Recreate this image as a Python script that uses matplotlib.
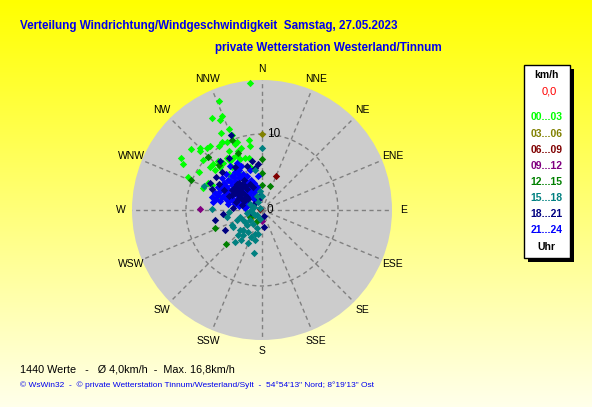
"""
wind scatter, one point per minute, colour by time of day
"""

import numpy as np
import matplotlib.pyplot as plt
from matplotlib.patches import Rectangle

W, H = 592, 407

title = "Verteilung Windrichtung/Windgeschwindigkeit  Samstag, 27.05.2023"
subtitle = "private Wetterstation Westerland/Tinnum"
stats = "1440 Werte   -   \u00d8 4,0km/h  -  Max. 16,8km/h"
copyright_txt = ("\u00a9 WsWin32  -  \u00a9 private Wetterstation Tinnum/Westerland/Sylt  -  "
                 "54\u00b054'13\" Nord; 8\u00b019'13\" Ost")

directions = ["N", "NNE", "NE", "ENE", "E", "ESE", "SE", "SSE",
              "S", "SSW", "SW", "WSW", "W", "WNW", "NW", "NNW"]

hour_labels = ["00...03", "03...06", "06...09", "09...12",
               "12...15", "15...18", "18...21", "21...24"]
hour_colors = ["#00ff00", "#808000", "#800000", "#800080",
               "#008000", "#008080", "#000080", "#0000ff"]

# wind vectors (east, north) in km/h
h00_03 = [(-1.6, 16.7), (-5.7, 14.3), (-6.6, 12.1), (-5.5, 11.9), (-5.3, 12.3),
          (-5.4, 10.1), (-4.4, 10.6), (-4.0, 9.9), (-5.3, 8.9), (-4.6, 9.0),
          (-3.6, 8.7), (-3.3, 9.0), (-9.3, 8.0), (-8.2, 8.2), (-8.2, 7.8),
          (-7.3, 8.2), (-6.8, 8.4), (-5.7, 8.4), (-4.3, 7.7), (-3.2, 7.7),
          (-2.7, 8.1), (-1.7, 9.2), (-1.6, 8.4), (-7.7, 6.6), (-7.1, 7.0),
          (-10.6, 6.9), (-10.4, 6.0), (-6.8, 5.7), (-6.4, 6.1), (-5.8, 6.4),
          (-5.5, 5.7), (-5.1, 6.2), (-3.3, 7.2), (-2.9, 6.7), (-2.2, 6.9),
          (-1.7, 6.9), (-1.6, 5.6), (-4.0, 5.7), (-3.6, 5.5), (-8.3, 5.0),
          (-9.7, 4.4), (-4.3, 4.8), (-3.1, 5.0), (-2.9, 5.7), (-4.6, 6.9),
          (-3.8, 6.9), (-4.2, 6.4), (-6.2, 5.3), (-7.1, 3.5), (-6.6, 3.3),
          (-5.7, 1.8), (-7.7, 2.9), (-5.4, 3.2)]
h03_06 = [(0.0, 10.0), (-1.5, -1.1)]
h06_09 = [(1.8, 4.5), (-0.2, 0.1)]
h09_12 = [(-8.2, 0.1), (0.0, -1.5)]
h12_15 = [(-9.3, 3.9), (-6.2, -2.4), (-4.7, -4.5), (0.0, 6.7), (0.0, 4.9),
          (1.1, 3.1), (0.0, 3.3), (-7.1, 7.0), (-3.2, 7.5), (-5.6, 5.9),
          (-3.9, 9.2), (-0.7, -1.4), (-1.6, -0.9)]
h15_18 = [(-6.6, 0.1), (-4.6, -0.9), (-4.0, -2.0), (-3.8, -2.2), (-2.9, -2.6),
          (-2.5, -3.3), (-3.1, -3.3), (-2.7, -3.9), (-3.6, -4.2), (-1.8, -4.4),
          (-1.4, -3.5), (-1.1, -5.7), (-2.5, -2.6), (-2.0, -2.0), (-1.6, -1.3),
          (-0.7, -2.4), (-0.5, -3.1), (-0.9, -3.9), (-2.5, -1.3), (-2.9, -0.9),
          (-2.0, -0.4), (-1.4, 0.0), (-0.9, -0.7), (-3.3, -1.3), (-4.4, -0.2),
          (-1.8, -2.9), (-0.9, -3.1), (-7.6, 3.2), (0.0, 8.2), (0.0, 1.8),
          (-0.9, 5.3), (-0.5, 1.0), (-1.0, 0.4), (-0.3, 0.3), (-1.6, 0.8),
          (-0.7, 1.9), (-0.2, 2.5), (-1.2, -0.4), (-0.6, -0.6), (-1.2, -1.8),
          (-2.2, -1.6), (-0.3, -1.2)]
h18_21 = [(-3.5, 2.2), (-3.0, 2.0), (-2.6, 2.4), (-2.2, 2.0), (-2.8, 1.6),
          (-3.4, 1.0), (-2.4, 1.2), (-1.8, 1.4), (-4.0, 2.6), (-3.6, 3.0),
          (-2.0, 2.8), (-1.6, 3.4), (-3.0, 3.6), (-2.4, 4.0), (-1.2, 3.0),
          (-4.4, 1.8), (-5.0, 2.6), (-5.6, 3.4), (-6.0, 4.4), (-4.1, 9.9),
          (-6.6, 2.8), (-5.1, -0.5), (0.3, -2.2), (-0.9, 5.5), (-4.3, 6.8),
          (-6.2, -1.3), (-4.9, -2.6), (-0.5, 6.0), (-2.0, 5.8), (-1.3, 6.5),
          (-3.5, 5.6), (-5.2, 5.0), (-1.0, 0.8), (-0.4, 1.5), (-2.6, 0.6),
          (-3.8, 0.3), (-6.8, 3.6), (-5.5, 6.5), (-1.5, -0.2), (0.3, -0.8),
          (-3.2, 2.6), (-2.8, 2.9), (-2.3, 3.1), (-3.9, 2.0), (-3.1, 1.4),
          (-2.0, 1.7), (-2.6, 3.3), (-3.3, 3.4)]
h21_24 = [(-5.0, 3.5), (-4.5, 4.0), (-4.0, 4.5), (-3.5, 5.0), (-3.0, 5.3),
          (-2.5, 4.8), (-2.0, 4.5), (-1.5, 4.0), (-1.0, 3.5), (-0.6, 3.0),
          (-5.5, 2.5), (-5.0, 2.0), (-4.5, 2.8), (-4.0, 3.3), (-3.5, 3.8),
          (-3.0, 4.2), (-2.5, 3.6), (-2.0, 3.2), (-1.5, 2.8), (-1.0, 2.4),
          (-6.0, 1.5), (-5.5, 1.2), (-4.8, 1.5), (-4.2, 2.0), (-3.6, 2.5),
          (-3.0, 3.0), (-2.4, 2.6), (-1.8, 2.0), (-1.2, 1.6), (-0.8, 1.2),
          (-4.5, 0.8), (-3.8, 1.2), (-3.2, 1.8), (-2.6, 1.4), (-2.0, 1.0),
          (-1.5, 0.6), (-3.0, 0.5), (-2.2, 0.2), (-6.4, 1.1), (-6.6, 1.7),
          (-5.3, 4.2), (-4.8, 4.7), (-2.8, 5.8), (-1.6, 5.2), (-0.5, 4.5),
          (-0.3, 2.0), (-5.8, 3.0), (-6.2, 2.2), (-3.3, 6.2), (-4.2, 5.8),
          (-4.7, 3.2), (-4.2, 3.8), (-3.7, 4.3), (-3.2, 4.7), (-2.7, 4.3),
          (-2.2, 3.9), (-1.7, 3.5), (-1.3, 3.2), (-0.9, 2.8), (-5.2, 1.7),
          (-4.6, 2.3), (-4.0, 1.6), (-3.4, 2.2), (-2.8, 2.1), (-2.2, 2.4),
          (-1.6, 2.3), (-1.0, 1.9), (-4.4, 1.2), (-3.6, 0.8), (-2.9, 1.2),
          (-2.3, 0.8), (-1.8, 0.6), (-5.8, 2.0), (-5.2, 3.0)]

groups = [h00_03, h03_06, h06_09, h09_12, h12_15, h21_24, h18_21, h15_18]
group_colors = [hour_colors[i] for i in (0, 1, 2, 3, 4, 7, 6, 5)]

R_MAX = 17.1


def fx(x):
    return x / W


def fy(y):
    return 1 - y / H


fig = plt.figure(figsize=(W / 100, H / 100), dpi=100)

# yellow gradient background
bg = fig.add_axes([0, 0, 1, 1], zorder=-10)
grad = np.linspace(0, 1, 256).reshape(-1, 1)
top = np.array([1.0, 1.0, 0.0])
bottom = np.array([1.0, 1.0, 0.92])
img = top + grad[..., None] * (bottom - top)
bg.imshow(img, aspect="auto", extent=[0, 1, 0, 1])
bg.axis("off")

# polar plot
cx, cy, rad = 262, 210, 130
ax = fig.add_axes([fx(cx - rad), fy(cy + rad), 2 * rad / W, 2 * rad / H],
                  projection="polar")
ax.set_theta_zero_location("N")
ax.set_theta_direction(-1)
ax.set_facecolor("#cccccc")
ax.spines["polar"].set_visible(False)
ax.set_ylim(0, R_MAX)
ax.set_thetagrids(np.arange(0, 360, 22.5), labels=[])
ax.set_rgrids([10], labels=[])
ax.grid(color="#808080", linestyle=(0, (3, 2.5)), linewidth=1)

for pts, col in zip(groups, group_colors):
    e = np.array([p[0] for p in pts])
    n = np.array([p[1] for p in pts])
    ax.scatter(np.arctan2(e, n), np.hypot(e, n), marker="D", s=14,
               color=col, linewidths=0, zorder=3, clip_on=False)

for i, d in enumerate(directions):
    ax.text(np.deg2rad(i * 22.5), 18.6, d, ha="center", va="center",
            fontsize=7.5, family="Liberation Sans", clip_on=False)
ax.text(np.deg2rad(4), 10.0, "10", ha="left", va="center", fontsize=8.5,
        family="Liberation Sans")
ax.text(np.deg2rad(90), 0.6, "0", ha="left", va="center", fontsize=8.5,
        family="Liberation Sans")

# titles
fig.text(fx(20), fy(25.5), title, color="#0000ee", fontsize=8.4,
         fontweight="bold", family="Liberation Sans", va="center")
fig.text(fx(215), fy(48.5), subtitle, color="#0000ee", fontsize=8.4,
         fontweight="bold", family="Liberation Sans", va="center")

# legend box with shadow
fig.patches.append(Rectangle((fx(528), fy(262)), 46 / W, 193 / H,
                             transform=fig.transFigure, facecolor="black",
                             edgecolor="none", zorder=1))
fig.patches.append(Rectangle((fx(524), fy(258)), 46 / W, 193 / H,
                             transform=fig.transFigure, facecolor="white",
                             edgecolor="black", linewidth=1, zorder=2))
fig.text(fx(546.5), fy(75), "km/h", ha="center", va="center", fontsize=7.5,
         fontweight="bold", family="Liberation Sans", zorder=3)
fig.text(fx(549), fy(91), "0,0", ha="center", va="center", fontsize=8,
         color="#ff0000", family="Liberation Sans", zorder=3)
for i, (lab, col) in enumerate(zip(hour_labels, hour_colors)):
    fig.text(fx(546.5), fy(117.5 + i * 16.1), lab, ha="center", va="center",
             fontsize=7.5, fontweight="bold", color=col,
             family="Liberation Sans", zorder=3)
fig.text(fx(546.5), fy(246.5), "Uhr", ha="center", va="center", fontsize=7.5,
         fontweight="bold", family="Liberation Sans", zorder=3)

# footer
fig.text(fx(20), fy(369), stats, fontsize=7.8, family="Liberation Sans",
         va="center")
fig.text(fx(20), fy(385.5), copyright_txt, fontsize=6, color="#0000ee",
         family="Liberation Sans", va="center")

fig.savefig("out.png", dpi=100)
